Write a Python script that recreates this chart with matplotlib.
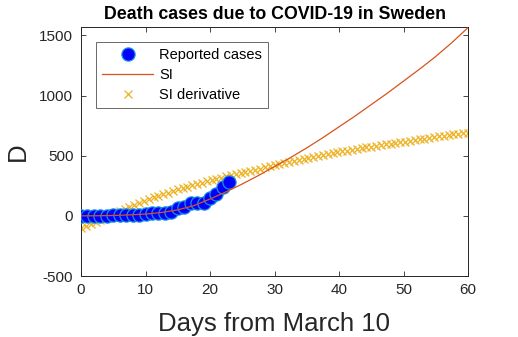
import numpy as np
import matplotlib
matplotlib.use("Agg")
import matplotlib.pyplot as plt

# Reported cumulative deaths, days 0..23 from March 10
report_days = list(range(24))
report_values = [0, 1, 1, 1, 2, 3, 7, 8, 10, 11, 16, 20, 21, 25, 36, 62, 77, 105, 105, 110, 146, 180, 239, 282]

# SI model curve
si_days = [0, 2.5, 5, 7.5, 10, 12.5, 15, 17.5, 20, 22.5, 25, 27.5, 30, 32.5, 35,
           37.5, 40, 42.5, 45, 47.5, 50, 52.5, 55, 57.5, 60]
si_values = [0, 1, 3, 8, 15, 28, 50, 85, 140, 200, 265, 335, 410, 485, 565,
             650, 740, 830, 925, 1020, 1120, 1220, 1325, 1440, 1565]

# SI derivative markers
deriv_values = [-100, -83, -66, -48, -31, -14, 4, 21, 38, 55, 73, 90, 107, 124, 139, 153,
                166, 180, 193, 207, 220, 231, 243, 254, 265, 276, 288, 298, 308, 318, 328,
                337, 347, 357, 366, 375, 384, 393, 402, 411, 420, 430, 440, 449, 458, 467,
                476, 484, 492, 500, 508, 515, 523, 530, 536, 543, 550, 557, 563, 570, 576,
                582, 588, 594, 600, 606, 612, 618, 624, 630, 636, 642, 648, 654, 660, 666,
                672, 678, 684, 688, 692]
deriv_days = np.linspace(0, 60, len(deriv_values))

x_ticks = [0, 10, 20, 30, 40, 50, 60]
y_ticks = [-500, 0, 500, 1000, 1500]

plt.rcParams['font.family'] = ['Liberation Sans', 'DejaVu Sans']
plt.rcParams['axes.unicode_minus'] = False

fig = plt.figure(figsize=(5.18, 3.37), dpi=100)
ax = fig.add_axes([81/518, 1-276/337, (468-81)/518, (276-27)/337])

ax.plot(report_days, report_values, linestyle='none', marker='o', markersize=9.5,
        markerfacecolor='#0000ff', markeredgecolor='#1a90dd', markeredgewidth=0.9,
        label='Reported cases', zorder=3)
ax.plot(si_days, si_values, color='#D95319', linewidth=0.9, label='SI', zorder=4)
ax.plot(deriv_days, deriv_values, linestyle='none', marker='x', markersize=5.5,
        markeredgewidth=0.9, color='#EDB120', label='SI derivative', zorder=2)

ax.set_xlim(0, 60)
ax.set_ylim(-500, 1570)
ax.set_xticks(x_ticks)
ax.set_yticks(y_ticks)
ax.tick_params(direction='in', length=3.5, width=0.6, top=True, right=True,
               labelsize=11, colors='#262626')
ax.tick_params(axis='y', pad=5.5)
ax.tick_params(axis='x', pad=5)
for s in ax.spines.values():
    s.set_linewidth(0.7)
    s.set_color('#262626')

ax.set_title('Death cases due to COVID-19 in Sweden', fontsize=12.8, fontweight='bold', pad=6)
ax.set_xlabel('Days from March 10', fontsize=18.5, color='#262626', labelpad=11)
ax.set_ylabel('D', fontsize=18.5, color='#262626', labelpad=7)

leg = ax.legend(loc='upper left', bbox_to_anchor=(0.04, 0.94), fontsize=10.5,
                frameon=True, fancybox=False, borderpad=0.4, labelspacing=0.42,
                handlelength=3.5, handletextpad=0.4, borderaxespad=0)
leg.get_frame().set_edgecolor('#262626')
leg.get_frame().set_linewidth(0.6)

fig.savefig('out.png', dpi=100)
